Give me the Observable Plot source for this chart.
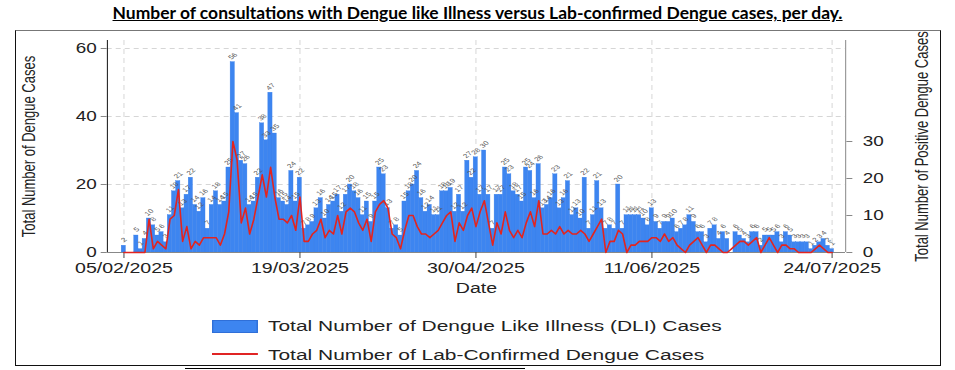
<!DOCTYPE html>
<html>
<head>
<meta charset="utf-8">
<script src="https://cdn.jsdelivr.net/npm/d3@7"></script>
<script src="https://cdn.jsdelivr.net/npm/@observablehq/plot@0.6"></script>
<style>
  html, body { margin:0; padding:0; background:#fff; }
  #page { position:relative; width:955px; height:370px; overflow:hidden; background:#fff; font-family:"Liberation Sans", Arial, sans-serif; }
  #title { position:absolute; left:0; top:2px; width:955px; text-align:center; }
  #title span { display:inline-block; font-family:"Liberation Sans Narrow","Lato",sans-serif; font-weight:bold; font-size:17px; text-decoration:underline; color:#000; white-space:nowrap; transform-origin:50% 50%; }
  #box { position:absolute; left:15px; top:30px; width:926px; height:336px; box-sizing:border-box; border:1px solid #111; border-top-color:#777; }
  .chart { position:absolute; left:0; top:0; width:955px; height:300px; }
  .chart svg { display:block; }
  .chart svg line, .chart svg path { vector-effect:non-scaling-stroke; }
  #legend { position:absolute; left:212px; top:312px; width:520px; height:54px; transform:scaleX(1.35); transform-origin:0 0; }
  .sw-bar { position:absolute; left:0; top:8px; width:34px; height:13px; background:#3d85f0; box-sizing:border-box; border:1px solid #2f6fd8; }
  .sw-line { position:absolute; left:0; top:41px; width:34px; height:0; border-top:2px solid #e02424; }
  .lg-text { position:absolute; left:41.5px; font-size:15.5px; color:#222; white-space:nowrap; line-height:18px; }
  #bottomline { position:absolute; left:185px; top:368px; width:340px; height:0; border-top:1px solid #000; }
</style>
</head>
<body>
<div id="page">
  <div id="box"></div>
  <div id="title"><span>Number of consultations with Dengue like Illness versus Lab-confirmed Dengue cases, per day.</span></div>
  <div id="c1" class="chart"></div>
  <div id="c2" class="chart"></div>
  <div id="legend">
    <div class="sw-bar"></div><div class="lg-text" style="top:5px">Total Number of Dengue Like Illness (DLI) Cases</div>
    <div class="sw-line"></div><div class="lg-text" style="top:34px">Total Number of Lab-Confirmed Dengue Cases</div>
  </div>
  <div id="bottomline"></div>
</div>
<script>
// ---- data ----
const startDate = "2025-02-05";
const dliCases = [
  2,0,0,5,1,4,10,8,5,6,
  3,11,18,21,13,17,22,14,12,16,
  7,14,18,14,15,25,56,41,27,26,
  14,15,22,38,33,47,35,16,15,14,
  24,15,22,7,8,9,13,16,10,14,
  15,17,12,17,20,18,16,11,15,9,
  15,25,23,13,7,8,5,15,18,20,
  24,16,12,14,11,11,18,18,19,12,
  17,12,27,22,28,17,30,17,7,17,
  17,25,23,18,17,15,25,24,16,26,
  13,14,16,23,13,16,21,11,13,10,
  22,7,11,21,13,7,8,7,20,7,
  11,11,11,11,10,8,13,9,7,9,
  9,10,6,7,8,11,9,6,6,3,
  7,8,4,6,4,0,6,5,4,3,
  6,6,2,5,5,5,6,3,6,5,
  3,3,3,3,1,2,3,4,2,1
];
const labCases = [
  0,0,0,0,0,0,9,1,3,2,
  1,9,10,17,3,7,1,3,2,4,
  4,4,4,2,5,11,30,25,8,12,
  5,9,15,21,15,23,15,9,9,8,
  10,6,15,3,3,5,6,9,4,6,
  5,10,5,11,12,11,8,6,9,3,
  11,13,14,12,5,4,1,6,10,10,
  7,5,5,4,5,6,8,10,11,3,
  8,6,10,12,7,11,14,8,2,8,
  5,11,6,4,6,4,8,11,7,14,
  5,5,6,5,7,5,6,5,5,6,
  5,3,5,7,9,0,3,3,6,5,
  0,2,2,3,3,3,4,4,3,5,
  3,4,2,1,0,2,3,4,2,0,
  2,2,1,0,0,1,2,3,3,2,
  3,4,0,2,4,2,0,2,2,1,
  1,0,0,0,0,1,2,1,0,0
];
const xTickDates = ["2025-02-05","2025-03-19","2025-04-30","2025-06-11","2025-07-24"];
const leftTicks = [0,20,40,60];
const rightTicks = [0,10,20,30];
const leftMax = 62.35, rightMax = 57.3;

// ---- layout ----
const S = 1.35, FULLW = 955, W = FULLW / S, H = 300;
const margins = {marginLeft: 106.7 / S, marginRight: (FULLW - 845) / S, marginTop: 40, marginBottom: 48};
const DAY = 864e5;
const t0 = new Date(startDate);
const rows = dliCases.map((v, i) => ({date: d3.utcDay.offset(t0, i), dli: v, lab: labCases[i]}));
const xDomain = [new Date(+t0 - 3.96 * DAY), new Date(+t0 + 172.24 * DAY)];
const xTicks = xTickDates.map(s => new Date(s));
const font = "'Liberation Sans', Arial, sans-serif";
const fmt = d3.utcFormat("%d/%m/%Y");
const baseStyle = {background: "transparent", fontFamily: font, fontSize: "14.5px", color: "#222", overflow: "visible"};

const p1 = Plot.plot({
  width: W, height: H, ...margins,
  style: baseStyle,
  x: {type: "utc", domain: xDomain},
  y: {domain: [0, leftMax]},
  marks: [
    Plot.gridY(leftTicks.slice(1), {stroke: "#d6d6d6", strokeOpacity: 1, strokeDasharray: "5,4"}),
    Plot.gridX(xTicks, {stroke: "#d6d6d6", strokeOpacity: 1, strokeDasharray: "5,4"}),
    Plot.rectY(rows, {x1: d => new Date(+d.date - DAY / 2), x2: d => new Date(+d.date + DAY / 2), y: "dli", fill: "#3d85f0", stroke: "#3a7fe8", strokeWidth: 0.3}),
    Plot.text(rows.filter(d => d.dli > 0), {x: "date", y: "dli", text: d => String(d.dli), rotate: -45, fontSize: 6, fill: "#555", dy: -6}),
    Plot.ruleY([0], {stroke: "#888"}),
    Plot.ruleX([xDomain[0]], {stroke: "#111"}),
    Plot.axisX({ticks: xTicks, tickFormat: fmt, tickSize: 6, tickPadding: 4, fontSize: 14.5, stroke: "#444",
      label: "Date", labelAnchor: "center", labelOffset: 40, labelArrow: "none"}),
    Plot.axisY({ticks: leftTicks, anchor: "left", tickSize: 6 / S, tickPadding: 3.5, fontSize: 14, stroke: "#888",
      label: "Total Number of Dengue Cases", labelAnchor: "center", labelOffset: 62.5, labelArrow: "none"})
  ]
});

const p2 = Plot.plot({
  width: W, height: H, ...margins,
  style: baseStyle,
  x: {type: "utc", domain: xDomain, axis: null},
  y: {domain: [0, rightMax]},
  marks: [
    Plot.lineY(rows, {x: "date", y: "lab", stroke: "#e3241f", strokeWidth: 1.6}),
    Plot.ruleX([xDomain[1]], {stroke: "#888"}),
    Plot.axisY({ticks: rightTicks, anchor: "right", tickSize: 6 / S, tickPadding: 8.2, fontSize: 14, stroke: "#888",
      label: "Total Number of Positive Dengue Cases", labelAnchor: "center", labelOffset: 61, labelArrow: "none"})
  ]
});

function stretch(svg) {
  svg.setAttribute("width", FULLW);
  svg.setAttribute("height", H);
  svg.setAttribute("preserveAspectRatio", "none");
  svg.style.width = FULLW + "px";
  svg.style.height = H + "px";
  svg.style.maxWidth = "none";
}
stretch(p1); stretch(p2);
document.getElementById("c1").appendChild(p1);
document.getElementById("c2").appendChild(p2);
// axis-title font size
for (const g of document.querySelectorAll('g[aria-label="y-axis label"]')) g.setAttribute("font-size", "13");

// fit title width
const span = document.querySelector("#title span");
const tw = span.getBoundingClientRect().width;
span.style.transform = `scaleX(${730 / tw})`;
</script>
</body>
</html>
